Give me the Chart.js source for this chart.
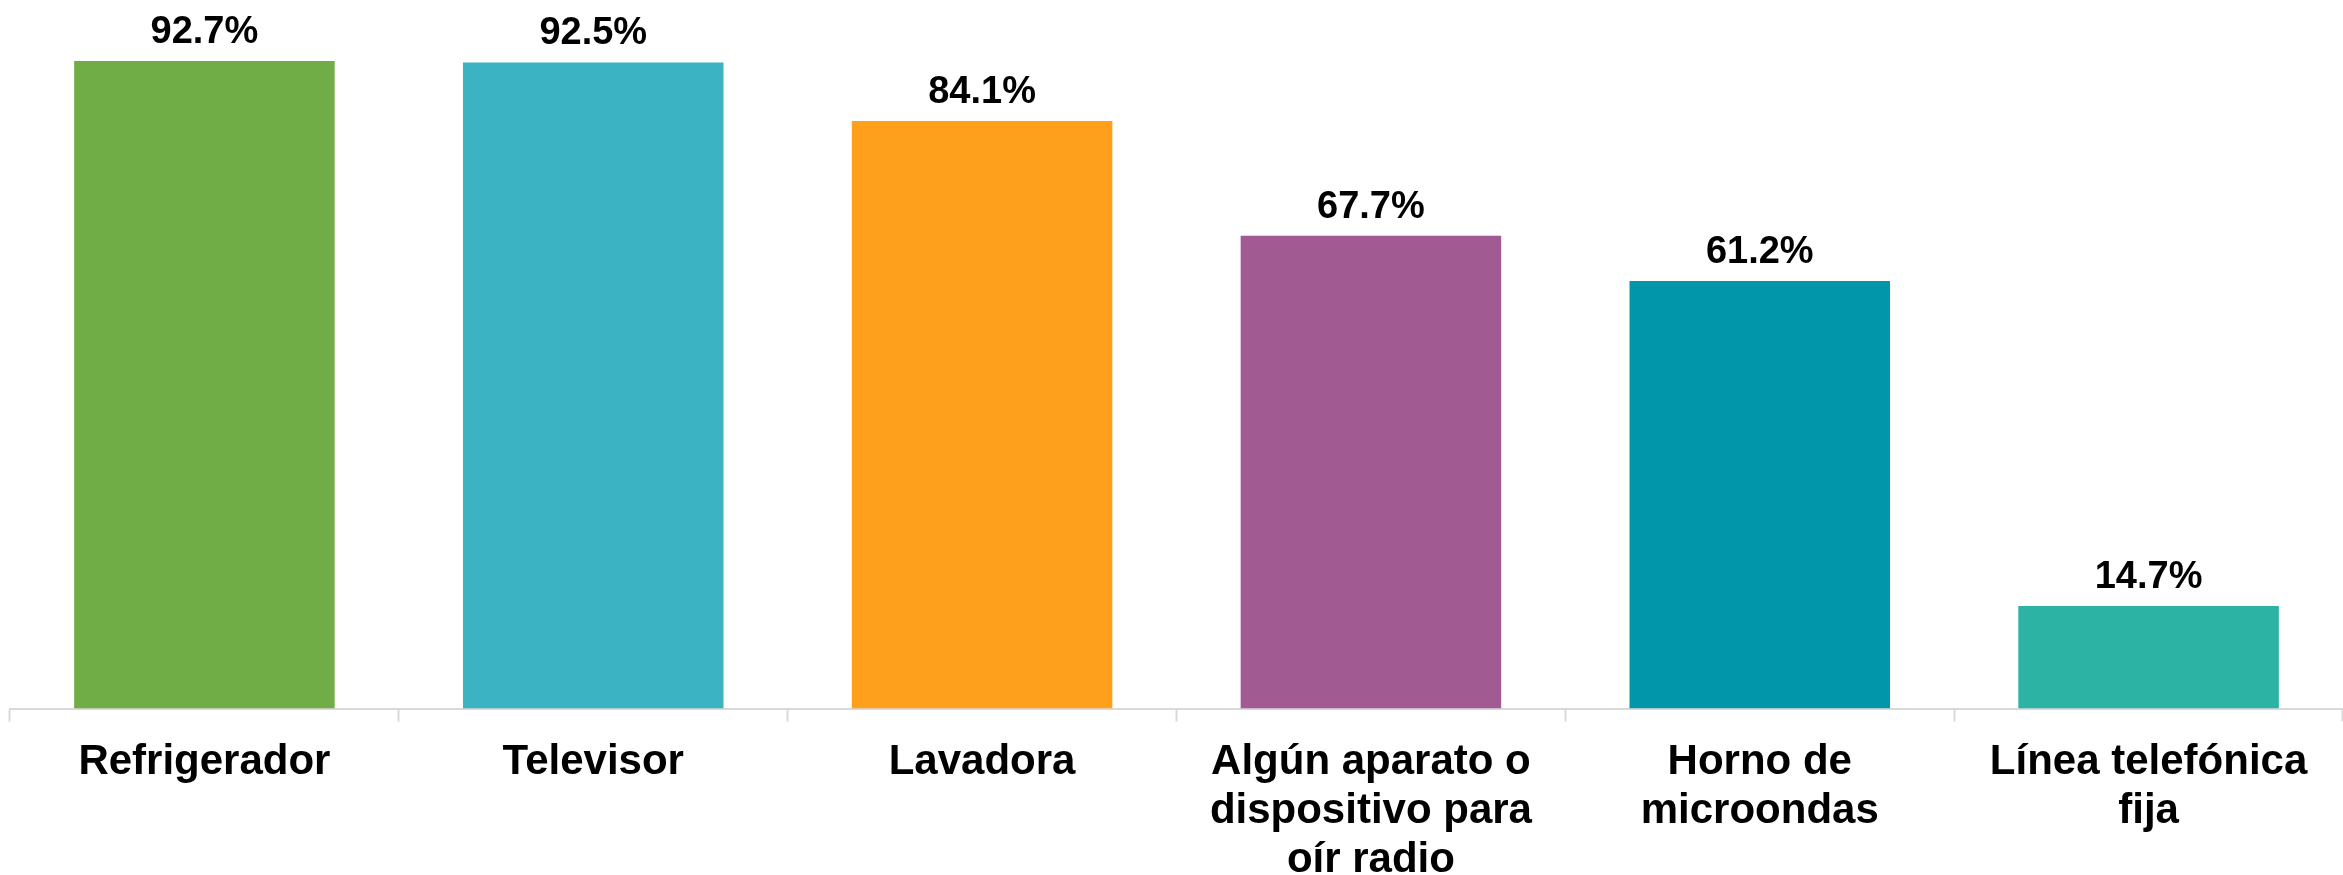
<!DOCTYPE html>
<html>
<head>
<meta charset="utf-8">
<script src="https://cdn.jsdelivr.net/npm/chart.js@4/dist/chart.umd.min.js"></script>
<style>
  html, body { margin: 0; padding: 0; background: #ffffff; overflow: hidden; }
  /* a bit taller than the window so the third label line runs off the bottom like the original */
  #wrap { width: 2343px; height: 901px; position: relative; }
</style>
</head>
<body>
<div id="wrap"><canvas id="chart1"></canvas></div>
<script>
const categories = [
  "Refrigerador",
  "Televisor",
  "Lavadora",
  ["Algún aparato o", "dispositivo para", "oír radio"],
  ["Horno de", "microondas"],
  ["Línea telefónica", "fija"]
];
const values = [92.7, 92.5, 84.1, 67.7, 61.2, 14.7];
const barColors = ["#70ad47", "#3bb3c3", "#ffa01c", "#a25a92", "#0296aa", "#2db3a3"];

const fontFamily = "'Liberation Sans', Arial, sans-serif";

// draws the "92.7%" labels above each bar
const valueLabels = {
    id: "valueLabels",
    afterDatasetsDraw(chart) {
        const ctx = chart.ctx;
        const meta = chart.getDatasetMeta(0);
        ctx.save();
        ctx.font = "bold 38px " + fontFamily;
        ctx.fillStyle = "#000000";
        ctx.textAlign = "center";
        ctx.textBaseline = "alphabetic";
        meta.data.forEach((bar, i) => {
            ctx.fillText(values[i].toFixed(1) + "%", bar.x, bar.y - 18);
        });
        ctx.restore();
    }
};

new Chart(document.getElementById("chart1"), {
    type: "bar",
    data: {
        labels: categories,
        datasets: [{
            data: values,
            backgroundColor: barColors,
            borderWidth: 0,
            barPercentage: 0.67,
            categoryPercentage: 1
        }]
    },
    options: {
        responsive: true,
        maintainAspectRatio: false,
        animation: false,
        layout: {
            padding: { left: 10, right: 0, top: 10, bottom: 0 }
        },
        plugins: {
            legend: { display: false },
            tooltip: { enabled: false }
        },
        scales: {
            x: {
                grid: {
                    offset: true,
                    drawOnChartArea: false,
                    drawTicks: true,
                    tickLength: 13,
                    tickWidth: 2,
                    color: "#d9d9d9"
                },
                border: {
                    display: true,
                    color: "#d9d9d9",
                    width: 2
                },
                ticks: {
                    color: "#000000",
                    padding: 16,
                    maxRotation: 0,
                    autoSkip: false,
                    font: { family: fontFamily, size: 42, weight: "bold", lineHeight: 1.17 }
                }
            },
            y: {
                display: false,
                min: 0,
                max: 100
            }
        }
    },
    plugins: [valueLabels]
});
</script>
</body>
</html>
